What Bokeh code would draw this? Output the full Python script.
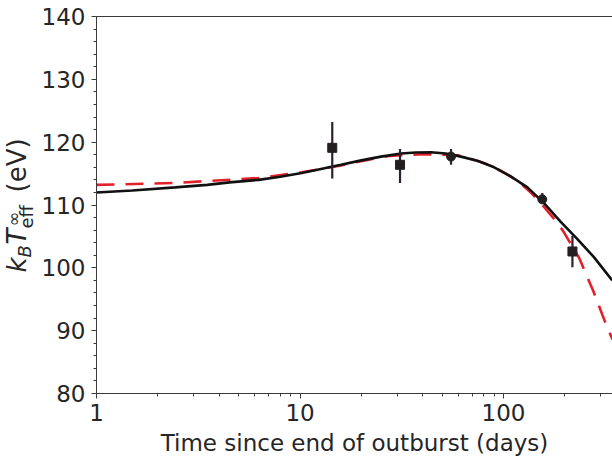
import math
from bokeh.plotting import figure
from bokeh.layouts import row
from bokeh.models import (Range1d, FixedTicker, SingleIntervalTicker, LogAxis,
                          CustomJSTickFormatter, Label, ColumnDataSource)
from bokeh.embed import file_html
from bokeh.resources import INLINE

# ---- data ----
obs_days = [14.4, 31.0, 55.2, 155.0, 218.0]
obs_kT = [119.1, 116.4, 117.7, 110.9, 102.6]
obs_hi = [123.2, 118.9, 118.9, 111.9, 105.1]
obs_lo = [114.2, 113.5, 116.4, 110.4, 100.1]
obs_marker = ["square", "square", "circle", "circle", "square"]

model1_days = [1.0, 1.5, 2.43, 3.5, 4.5, 6.26, 8.0, 10.2, 12.5, 15.9, 20.0, 25.0,
               31.4, 37.0, 44.0, 52.0, 61.8, 75.0, 89.9, 108.0, 131.0, 158.0,
               191.0, 230.0, 278.0, 342.0]
model1_kT = [112.0, 112.3, 112.8, 113.2, 113.6, 114.0, 114.5, 115.1, 115.7, 116.4,
             117.1, 117.7, 118.2, 118.35, 118.4, 118.2, 117.7, 117.0, 116.0,
             114.6, 112.8, 110.3, 107.3, 104.6, 101.7, 98.0]

model2_days = [1.0, 2.43, 6.26, 10.2, 15.9, 19.3, 27.4, 40.7, 59.7, 70.0, 86.6,
               100.0, 118.0, 137.0, 157.0, 175.0, 195.0, 235.0, 276.0, 317.0, 343.0]
model2_kT = [113.2, 113.5, 114.3, 115.2, 116.3, 116.9, 117.8, 118.1, 117.9, 117.3,
             116.3, 115.2, 113.8, 111.9, 109.8, 108.0, 106.0, 101.6, 96.3, 91.2,
             88.6]

x_major = [1, 10, 100]
x_minor = [2, 3, 4, 5, 6, 7, 8, 9, 20, 30, 40, 50, 60, 70, 80, 90, 200, 300]

FONT = "DejaVu Sans"
TXT = "#262626"
AX = "#3a3a3a"
LW = 38  # width of the strip that holds the y-axis title

p = figure(width=612 - LW, height=458, x_axis_type="log",
           x_range=Range1d(1, 343), y_range=Range1d(80, 140),
           output_backend="svg", toolbar_location=None,
           min_border_left=95 - LW, min_border_right=0, min_border_top=16,
           min_border_bottom=65)
p.outline_line_color = None
p.grid.grid_line_color = None

# x axis
xa = p.xaxis[0]
xa.ticker = FixedTicker(ticks=x_major, minor_ticks=x_minor)
xa.formatter = CustomJSTickFormatter(code="return tick.toFixed(0)")
xa.major_label_text_font = FONT
xa.major_label_text_font_size = "23px"
xa.major_label_text_color = TXT
xa.major_label_standoff = 5
xa.major_tick_out = 5
xa.major_tick_in = 0
xa.minor_tick_out = 3
xa.minor_tick_in = 0
xa.axis_line_color = AX
xa.major_tick_line_color = AX
xa.minor_tick_line_color = AX
xa.axis_label = "Time since end of outburst (days)"
xa.axis_label_text_font = FONT
xa.axis_label_text_font_size = "23px"
xa.axis_label_text_font_style = "normal"
xa.axis_label_text_color = TXT
xa.axis_label_standoff = 6

# y axis
ya = p.yaxis[0]
ya.ticker = SingleIntervalTicker(interval=10, num_minor_ticks=5)
ya.major_label_text_font = FONT
ya.major_label_text_font_size = "23px"
ya.major_label_text_color = TXT
ya.major_label_standoff = 6
ya.major_tick_out = 5
ya.major_tick_in = 0
ya.minor_tick_out = 3
ya.minor_tick_in = 0
ya.axis_line_color = AX
ya.major_tick_line_color = AX
ya.minor_tick_line_color = AX

# top spine
top = LogAxis(ticker=FixedTicker(ticks=[]), major_label_text_font_size="0px",
              major_tick_out=0, minor_tick_out=0, axis_line_color=AX)
p.add_layout(top, "above")

# model curves
p.line(model2_days, model2_kT, line_color="#e3202a", line_width=2.6,
       line_dash="18 11")
p.line(model1_days, model1_kT, line_color="#111111", line_width=2.6)

# observations with error bars
src = ColumnDataSource(dict(x=obs_days, y=obs_kT, hi=obs_hi, lo=obs_lo,
                            m=obs_marker))
p.segment(x0="x", y0="lo", x1="x", y1="hi", source=src,
          line_color="#2e2033", line_width=2.2)
p.scatter(x="x", y="y", marker="m", source=src, size=9,
          fill_color="#231f20", line_color="#231f20")

# narrow strip holding the mixed-style y-axis title
q = figure(width=LW, height=458, x_range=Range1d(0, 1), y_range=Range1d(0, 1),
           output_backend="svg", toolbar_location=None,
           min_border_left=0, min_border_right=0, min_border_top=16,
           min_border_bottom=65, x_axis_location=None, y_axis_location=None)
q.outline_line_color = None
q.grid.grid_line_color = None
FB = 393  # frame bottom (canvas px)


def lab(text, cx, cy, size, style="normal"):
    q.add_layout(Label(x=cx, y=FB - cy, x_units="screen", y_units="screen",
                       text=text, text_font=FONT, text_font_size=size,
                       text_font_style=style, text_color=TXT, angle=math.pi / 2,
                       text_align="left", text_baseline="alphabetic"))


lab("k", 16, 272, "26px", "italic")
lab("B", 24, 257, "18px", "italic")
lab("T", 16, 244, "26px", "italic")
lab("\u221e", 13, 226, "18px")
lab("eff", 26, 228, "18px")
lab("(eV)", 16, 192, "26px")

layout = row(q, p, spacing=0)
open("out.html", "w").write(file_html(layout, INLINE))
